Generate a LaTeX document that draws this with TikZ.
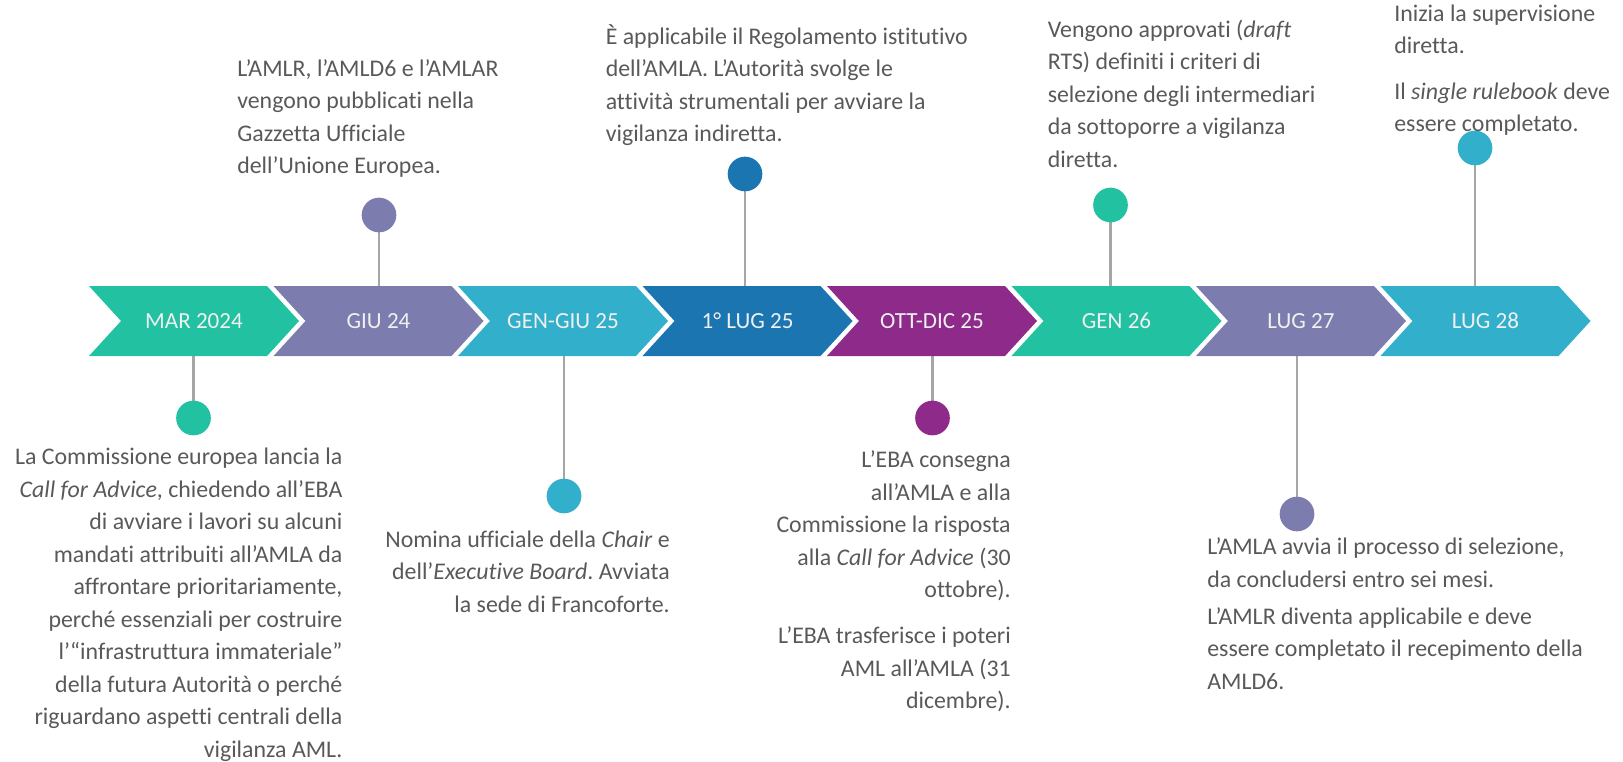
\documentclass[tikz,border=0pt]{standalone}
\usepackage{fontspec}
\setmainfont{Carlito}[Ligatures={NoCommon}]
\usetikzlibrary{backgrounds}
\frenchspacing
\definecolor{cteal}{HTML}{21C1A2}
\definecolor{clav}{HTML}{7C7CAE}
\definecolor{clblue}{HTML}{32AFCA}
\definecolor{cblue}{HTML}{1A75B1}
\definecolor{cmag}{HTML}{8E2A8A}
\definecolor{ctext}{HTML}{595959}
\definecolor{cstem}{HTML}{A6A6A6}
\newcommand\mychev[4]{%
  \fill[#2] (#1,286) -- ++(178,0) -- ++(32,35) -- ++(-32,35) -- ++(-178,0) -- ++(32,-35) -- cycle;
  \node[chevlabel] (#4) at (#1+105,321) {#3};}
\begin{document}
\begin{tikzpicture}[x=0.75pt,y=-0.75pt,
  chevlabel/.style={text=white!94!black,font=\fontsize{17.3}{20}\selectfont,inner sep=0pt},
  txt/.style={text=ctext,font=\fontsize{17.9}{24.4}\selectfont\frenchspacing,inner sep=0pt},
  dot/.style={circle,fill=#1,minimum size=26,inner sep=0pt},
  stem/.style={draw=cstem,line width=1.7pt}]
\useasboundingbox (0,0) rectangle (1623,761);
% chevrons
\mychev{89}{cteal}{MAR 2024}{c1}
\mychev{273.5}{clav}{GIU 24}{c2}
\mychev{458}{clblue}{GEN-GIU 25}{c3}
\mychev{642.5}{cblue}{1° LUG 25}{c4}
\mychev{827}{cmag}{OTT-DIC 25}{c5}
\mychev{1011.5}{cteal}{GEN 26}{c6}
\mychev{1196}{clav}{LUG 27}{c7}
\mychev{1380.5}{clblue}{LUG 28}{c8}
% stem end points on chevrons
\coordinate (eA) at (379,287);
\coordinate (eB) at (745,287);
\coordinate (eC) at (1110.5,287);
\coordinate (eD) at (1475,287);
\coordinate (eE) at (193.5,355);
\coordinate (eF) at (564,355);
\coordinate (eG) at (932.5,355);
\coordinate (eH) at (1297,355);
% dots
\node[dot=clav]   (dA) at (379,215) {};
\node[dot=cblue]  (dB) at (745,174) {};
\node[dot=cteal]  (dC) at (1110.5,205) {};
\node[dot=clblue] (dD) at (1475,148) {};
\node[dot=cteal]  (dE) at (193.5,418) {};
\node[dot=clblue] (dF) at (564,496) {};
\node[dot=cmag]   (dG) at (932.5,418) {};
\node[dot=clav]   (dH) at (1297,514) {};
\begin{scope}[on background layer]
\foreach \s in {A,B,C,D,E,F,G,H} \draw[stem] (d\s.center) -- (e\s);
\end{scope}
% texts above
\node[txt,anchor=base west] (tA) at (237,76) {\begin{tabular}[t]{@{}l@{}}L’AMLR, l’AMLD6 e l’AMLAR\\vengono pubblicati nella\\Gazzetta Ufficiale\\dell’Unione Europea.\end{tabular}};
\node[txt,anchor=base west] (tB) at (605.5,44) {\begin{tabular}[t]{@{}l@{}}È applicabile il Regolamento istitutivo\\dell’AMLA. L’Autorità svolge le\\attività strumentali per avviare la\\vigilanza indiretta.\end{tabular}};
\node[txt,anchor=base west] (tC) at (1047.5,37) {\begin{tabular}[t]{@{}l@{}}Vengono approvati (\textit{draft}\\RTS) definiti i criteri di\\selezione degli intermediari\\da sottoporre a vigilanza\\diretta.\end{tabular}};
\node[txt,anchor=base west] (tD1) at (1394,21) {\begin{tabular}[t]{@{}l@{}}Inizia la supervisione\\diretta.\end{tabular}};
\node[txt,anchor=base west] (tD2) at (1394,99) {\begin{tabular}[t]{@{}l@{}}Il \textit{single rulebook} deve\\essere completato.\end{tabular}};
% texts below
\node[txt,anchor=base east] (tE) at (342.6,464.5) {\begin{tabular}[t]{@{}r@{}}La Commissione europea lancia la\\\textit{Call for Advice}, chiedendo all’EBA\\di avviare i lavori su alcuni\\mandati attribuiti all’AMLA da\\affrontare prioritariamente,\\perché essenziali per costruire\\l’“infrastruttura immateriale”\\della futura Autorità o perché\\riguardano aspetti centrali della\\vigilanza AML.\end{tabular}};
\node[txt,anchor=base east] (tF) at (670,547) {\begin{tabular}[t]{@{}r@{}}Nomina ufficiale della \textit{Chair} e\\dell’\textit{Executive Board}. Avviata\\la sede di Francoforte.\end{tabular}};
\node[txt,anchor=base east] (tG1) at (1011,467.6) {\begin{tabular}[t]{@{}r@{}}L’EBA consegna\\all’AMLA e alla\\Commissione la risposta\\alla \textit{Call for Advice} (30\\ottobre).\end{tabular}};
\node[txt,anchor=base east] (tG2) at (1011,643.6) {\begin{tabular}[t]{@{}r@{}}L’EBA trasferisce i poteri\\AML all’AMLA (31\\dicembre).\end{tabular}};
\node[txt,anchor=base west] (tH1) at (1207,554.6) {\begin{tabular}[t]{@{}l@{}}L’AMLA avvia il processo di selezione,\\da concludersi entro sei mesi.\end{tabular}};
\node[txt,anchor=base west] (tH2) at (1207,624) {\begin{tabular}[t]{@{}l@{}}L’AMLR diventa applicabile e deve\\essere completato il recepimento della\\AMLD6.\end{tabular}};
\end{tikzpicture}
\end{document}
